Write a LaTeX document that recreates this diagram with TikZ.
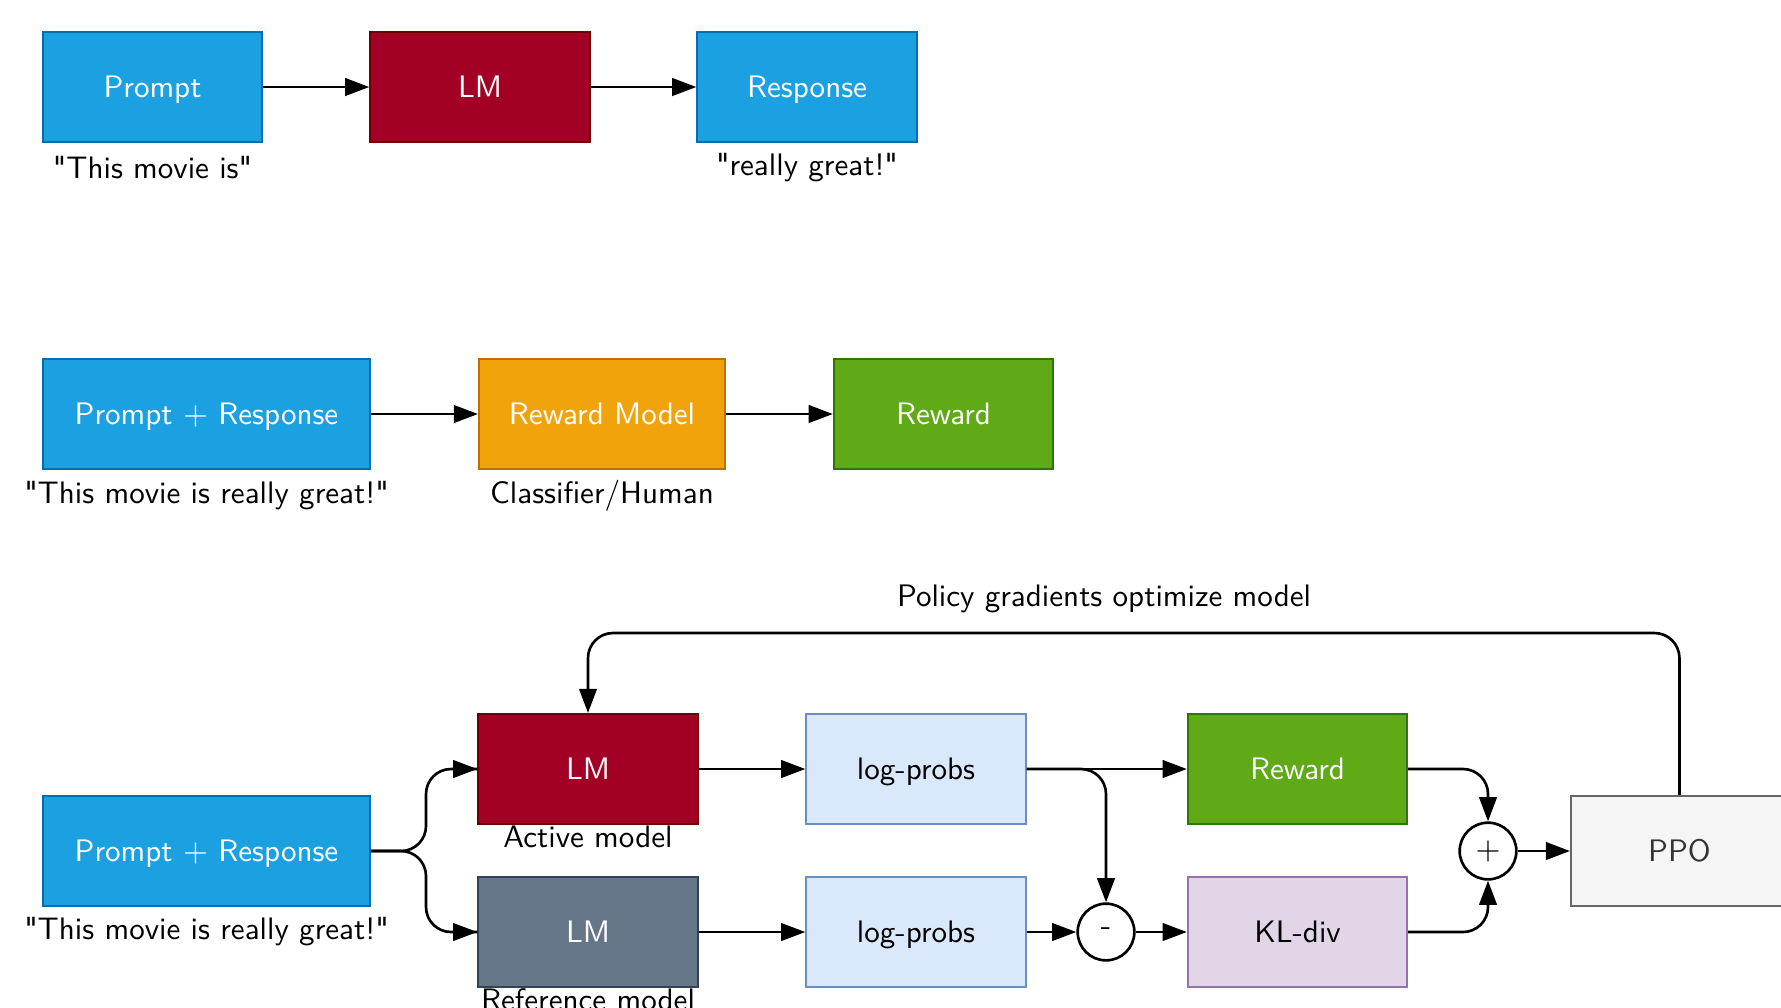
\documentclass[tikz,border=0pt]{standalone}
\usepackage{amsmath}
\usetikzlibrary{arrows.meta}

\definecolor{pblue}{HTML}{1BA1E2}
\definecolor{pblueline}{HTML}{006EAF}
\definecolor{lmred}{HTML}{A20025}
\definecolor{lmredline}{HTML}{6F0000}
\definecolor{rmorange}{HTML}{F0A30A}
\definecolor{rmorangeline}{HTML}{BD7000}
\definecolor{rwgreen}{HTML}{60A917}
\definecolor{rwgreenline}{HTML}{2D7600}
\definecolor{refslate}{HTML}{647687}
\definecolor{refslateline}{HTML}{314354}
\definecolor{lpblue}{HTML}{DAE8FC}
\definecolor{lpblueline}{HTML}{6C8EBF}
\definecolor{klpurple}{HTML}{E1D5E7}
\definecolor{klpurpleline}{HTML}{9673A6}
\definecolor{ppogray}{HTML}{F5F5F5}
\definecolor{ppograyline}{HTML}{666666}
\definecolor{ppotext}{HTML}{333333}

\tikzset{
  box/.style={rectangle, line width=0.7pt, minimum width=2.63cm, minimum height=1.32cm, inner sep=0pt, text height=1.9ex, text depth=0.3ex},
  bluebox/.style={box, fill=pblue, draw=pblueline, text=white},
  redbox/.style={box, fill=lmred, draw=lmredline, text=white},
  arrowtip/.style={-{Triangle[length=2.9mm,width=2.1mm]}},
  flow/.style={line width=0.9pt, arrowtip},
  link/.style={line width=0.9pt, rounded corners=0.3cm},
  opcircle/.style={circle, draw, line width=0.9pt, minimum size=0.68cm, inner sep=0pt}
}

\begin{document}
\begin{tikzpicture}[x=0.012cm, y=-0.012cm, font=\sffamily\fontsize{10.6}{13}\selectfont]
	\useasboundingbox (0,0) rectangle (1781,1007);
	\clip (0,0) rectangle (1781,1007);

	% Generation
	\node[bluebox] (prompt) at (152.5,87) {Prompt};
	\node[redbox] (lm) at (480,87) {LM};
	\node[bluebox] (response) at (807,87) {Response};
	\node (promptText) at (152.5,168) {\textquotedbl This movie is\textquotedbl};
	\node (responseText) at (807,168) {\textquotedbl really great!\textquotedbl};
	\draw[flow] (prompt) -- (lm);
	\draw[flow] (lm) -- (response);

	% Reward model
	\node[bluebox, minimum width=3.92cm] (pr) at (206.5,414) {Prompt $+$ Response};
	\node[box, minimum width=2.95cm, fill=rmorange, draw=rmorangeline, text=white] (rm) at (602,414) {Reward Model};
	\node[box, fill=rwgreen, draw=rwgreenline, text=white] (reward) at (943.5,414) {Reward};
	\node (prText) at (206.5,496) {\textquotedbl This movie is really great!\textquotedbl};
	\node (rmText) at (602,496) {Classifier/Human};
	\draw[flow] (pr) -- (rm);
	\draw[flow] (rm) -- (reward);

	% RL fine-tuning
	\node[bluebox, minimum width=3.92cm] (prb) at (206.5,851) {Prompt $+$ Response};
	\node (prbText) at (206.5,932) {\textquotedbl This movie is really great!\textquotedbl};
	\node[redbox] (active) at (588,769) {LM};
	\node[box, fill=refslate, draw=refslateline, text=white] (ref) at (588,932) {LM};
	\node[below, inner sep=0pt] at (active.south) {Active model};
	\node[below, inner sep=0pt] at (ref.south) {Reference model};
	\node[box, fill=lpblue, draw=lpblueline] (logA) at (916,769) {log-probs};
	\node[box, fill=lpblue, draw=lpblueline] (logR) at (916,932) {log-probs};
	\node[opcircle] (minus) at (1106,932) {-};
	\node[box, fill=rwgreen, draw=rwgreenline, text=white] (rewardb) at (1297.5,769) {Reward};
	\node[box, fill=klpurple, draw=klpurpleline] (kl) at (1297.5,932) {KL-div};
	\node[opcircle] (plus) at (1488,851) {$+$};
	\node[box, anchor=west, minimum width=2.6cm, fill=ppogray, draw=ppograyline, text=ppotext] (ppo) at (1570,851) {PPO};

	% Split into the two models
	\coordinate (split) at (426,851);
	\draw[link] (prb.east) -- (split) |- (active.west);
	\draw[link] (prb.east) -- (split) |- (ref.west);
	\draw[flow] ([xshift=-1pt]active.west) -- (active.west);
	\draw[flow] ([xshift=-1pt]ref.west) -- (ref.west);

	\draw[flow] (active) -- (logA);
	\draw[flow] (ref) -- (logR);
	\draw[flow] (logA) -- (rewardb);
	\draw[flow] (logR) -- (minus);
	\draw[flow] (minus) -- (kl);
	\draw[link, arrowtip] (logA.east) -| (minus.north);
	\draw[link, arrowtip] (rewardb.east) -| (plus.north);
	\draw[link, arrowtip] (kl.east) -| (plus.south);
	\draw[flow] (plus) -- (ppo);

	% Policy update loop
	\draw[link, arrowtip] (ppo.north) |- (1104,633) -| (active.north);
	\node (loopText) at (1104,599) {Policy gradients optimize model};
\end{tikzpicture}
\end{document}
